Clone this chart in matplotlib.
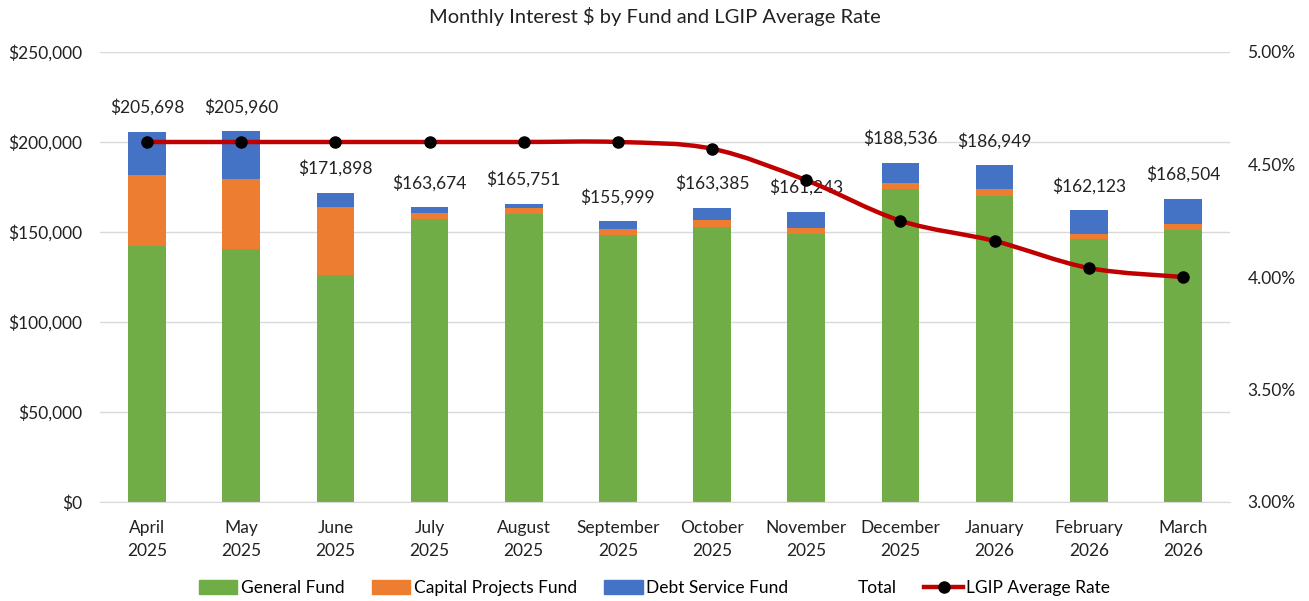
import matplotlib.pyplot as plt
from matplotlib.patches import Patch, PathPatch
from matplotlib.lines import Line2D
from matplotlib.path import Path
from matplotlib.ticker import FuncFormatter
import numpy as np

months = ["April\n2025", "May\n2025", "June\n2025", "July\n2025", "August\n2025",
          "September\n2025", "October\n2025", "November\n2025", "December\n2025",
          "January\n2026", "February\n2026", "March\n2026"]
general_fund = [142000, 140400, 126100, 157200, 160200, 148300,
                152900, 149100, 173700, 170200, 146300, 151300]
capital_projects = [39700, 39000, 37600, 3400, 3300, 3400,
                    3600, 3300, 3500, 3500, 2800, 3000]
debt_service = [23998, 26560, 8198, 3074, 2251, 4299,
                6885, 8843, 11336, 13249, 13023, 14204]
totals = [205698, 205960, 171898, 163674, 165751, 155999,
          163385, 161243, 188536, 186949, 162123, 168504]
lgip_rate = [4.60, 4.60, 4.60, 4.60, 4.60, 4.60,
             4.57, 4.43, 4.25, 4.16, 4.04, 4.00]

GREEN = "#70AD47"
ORANGE = "#ED7D31"
BLUE = "#4472C4"
RED = "#C00000"

plt.rcParams['font.family'] = ['Lato', 'DejaVu Sans']

fig = plt.figure(figsize=(13.09, 6.01), dpi=100)
ax = fig.add_axes([100 / 1309, 1 - 502 / 601, 1130 / 1309, 450 / 601])
x = np.arange(len(months))
w = 0.40

ax.bar(x, general_fund, w, color=GREEN, zorder=2)
ax.bar(x, capital_projects, w, bottom=general_fund, color=ORANGE, zorder=2)
bottom2 = np.array(general_fund) + np.array(capital_projects)
ax.bar(x, debt_service, w, bottom=bottom2, color=BLUE, zorder=2)

for xi, t in zip(x, totals):
    ax.annotate(f"${t:,}", (xi, t), xytext=(0, 17.5), textcoords="offset points",
                ha="center", va="center", fontsize=12.5, color="#222222")

ax.set_xlim(-0.5, len(months) - 0.5)
ax.set_ylim(0, 250000)
ax.set_yticks(np.arange(0, 250001, 50000))
ax.yaxis.set_major_formatter(FuncFormatter(lambda v, p: f"${v:,.0f}"))
ax.set_xticks(x)
ax.set_xticklabels(months, fontsize=12.5, color="#222222", linespacing=1.55)
ax.tick_params(axis="y", labelsize=12.5, colors="#222222", length=0, pad=12.5)
ax.tick_params(axis="x", length=0, pad=13)
ax.grid(axis="y", color="#D9D9D9", linewidth=1, zorder=0)
for s in ["top", "right", "left"]:
    ax.spines[s].set_visible(False)
ax.spines["bottom"].set_color("#D9D9D9")

ax2 = ax.twinx()
ax2.set_ylim(3.0, 5.0)
ax2.set_yticks(np.arange(3.0, 5.01, 0.5))
ax2.yaxis.set_major_formatter(FuncFormatter(lambda v, p: f"{v:.2f}%"))
ax2.tick_params(axis="y", labelsize=12.5, colors="#222222", length=0, pad=12.5)
for s in ax2.spines.values():
    s.set_visible(False)

# smoothed line like Excel (Catmull-Rom to Bezier)
pts = np.column_stack([x, lgip_rate]).astype(float)
verts = [pts[0]]
codes = [Path.MOVETO]
n = len(pts)
for i in range(n - 1):
    p0 = pts[max(i - 1, 0)]
    p1 = pts[i]
    p2 = pts[i + 1]
    p3 = pts[min(i + 2, n - 1)]
    c1 = p1 + (p2 - p0) / 6.0
    c2 = p2 - (p3 - p1) / 6.0
    verts += [c1, c2, p2]
    codes += [Path.CURVE4] * 3
ax2.add_patch(PathPatch(Path(verts, codes), facecolor="none", edgecolor=RED,
                        linewidth=3.2, zorder=3))
ax2.plot(x, lgip_rate, linestyle="none", marker="o", markersize=8,
         color="black", zorder=4)

fig.suptitle("Monthly Interest $ by Fund and LGIP Average Rate",
             y=1 - 16 / 601, va="center", fontsize=14.5, color="#222222")

handles = [Patch(color=GREEN), Patch(color=ORANGE), Patch(color=BLUE),
           Patch(color="none"),
           Line2D([], [], color=RED, linewidth=3.2, marker="o",
                  markersize=8, markerfacecolor="black", markeredgecolor="black")]
labels = ["General Fund", "Capital Projects Fund", "Debt Service Fund",
          "Total", "LGIP Average Rate"]
fig.legend(handles, labels, loc="center", bbox_to_anchor=(0.5, 1 - 588 / 601),
           ncol=5, frameon=False, fontsize=12.5, handlelength=2.2,
           handleheight=0.8, columnspacing=1.6, handletextpad=0.2)

fig.savefig("out.png", dpi=100)
